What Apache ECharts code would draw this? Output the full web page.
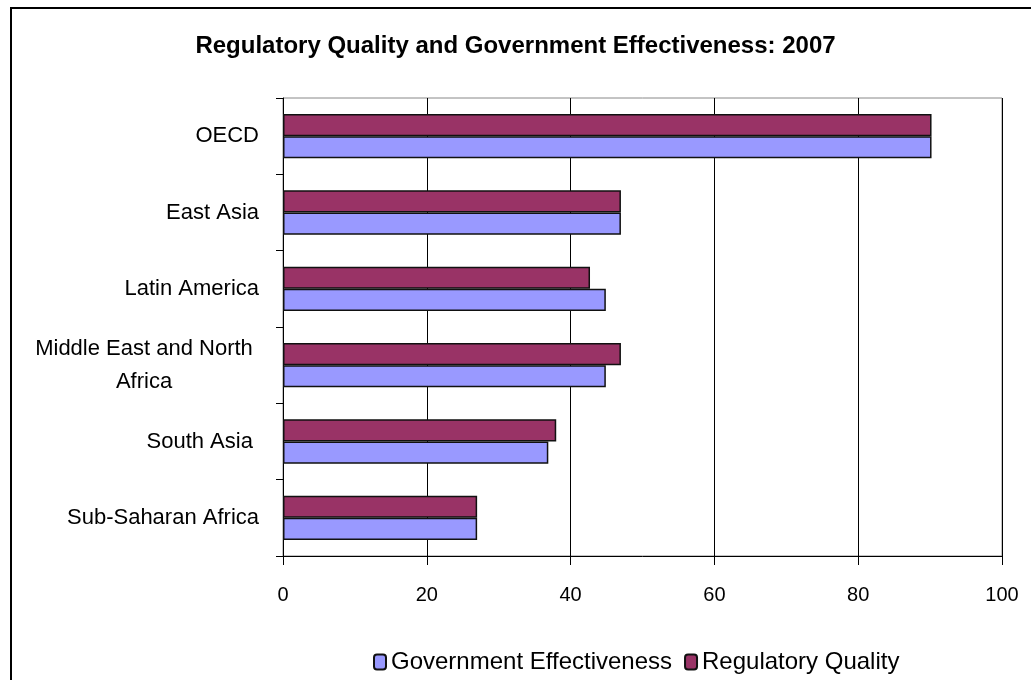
<!DOCTYPE html>
<html>
<head>
<meta charset="utf-8">
<script src="https://cdn.jsdelivr.net/npm/echarts@6/dist/echarts.min.js"></script>
<style>
html,body{margin:0;padding:0;background:#fff;}
#chart{width:1031px;height:680px;}
</style>
</head>
<body>
<div id="chart"></div>
<script>
const categories = ["OECD", "East Asia", "Latin America", "Middle East and North Africa", "South Asia ", "Sub-Saharan Africa"];
const govEffectiveness = [90.2, 47.0, 44.9, 44.9, 36.9, 27.0];
const regQuality = [90.2, 47.0, 42.7, 47.0, 38.0, 27.0];
const xTicks = [0, 20, 40, 60, 80, 100];

const chart = echarts.init(document.getElementById('chart'), null, {renderer: 'canvas'});
const font = 'Liberation Sans, Arial, sans-serif';
chart.setOption({
  animation: false,
  backgroundColor: '#fff',
  title: {
    text: 'Regulatory Quality and Government Effectiveness: 2007',
    left: 'center', top: 29,
    textStyle: {fontFamily: font, fontSize: 24, fontWeight: 'bold', color: '#000'}
  },
  graphic: [{
    type: 'rect', silent: true, z: 100,
    shape: {x: 11, y: 8, width: 1200, height: 900},
    style: {fill: 'none', stroke: '#000', lineWidth: 2}
  }],
  legend: {
    data: ['Government Effectiveness', 'Regulatory Quality'],
    left: 368, top: 645,
    itemWidth: 12, itemHeight: 15, itemGap: 12,
    textStyle: {fontFamily: font, fontSize: 24, color: '#000'}
  },
  grid: {
    left: 283, right: 29, top: 98, bottom: 124,
    show: true, borderColor: '#888', borderWidth: 1
  },
  xAxis: {
    type: 'value', min: xTicks[0], max: xTicks[xTicks.length - 1], interval: 20,
    axisLine: {show: true, lineStyle: {color: '#000', width: 1}},
    axisTick: {show: true, length: 9, lineStyle: {color: '#000'}},
    splitLine: {show: true, lineStyle: {color: '#000', width: 1}},
    axisLabel: {fontFamily: font, fontSize: 20, color: '#000', margin: 29}
  },
  yAxis: {
    type: 'category', data: categories, inverse: true,
    axisLine: {show: true, lineStyle: {color: '#000', width: 1}},
    axisTick: {show: true, length: 7, lineStyle: {color: '#000'}},
    axisLabel: {
      fontFamily: font, fontSize: 22, color: '#000', margin: 24,
      formatter: function (v) {
        if (v === 'Middle East and North Africa') return '{c|Middle East and North}\n{c|Africa}';
        return v;
      },
      rich: {c: {fontFamily: font, fontSize: 22, color: '#000', width: 230, align: 'center', lineHeight: 33}}
    }
  },
  series: [
    {
      name: 'Regulatory Quality', type: 'bar', data: regQuality,
      barGap: '0%', barCategoryGap: '42%',
      itemStyle: {color: '#993366', borderColor: '#111', borderWidth: 1.5}
    },
    {
      name: 'Government Effectiveness', type: 'bar', data: govEffectiveness,
      barGap: '0%', barCategoryGap: '42%',
      itemStyle: {color: '#9999FF', borderColor: '#111', borderWidth: 1.5}
    }
  ]
});
</script>
</body>
</html>
